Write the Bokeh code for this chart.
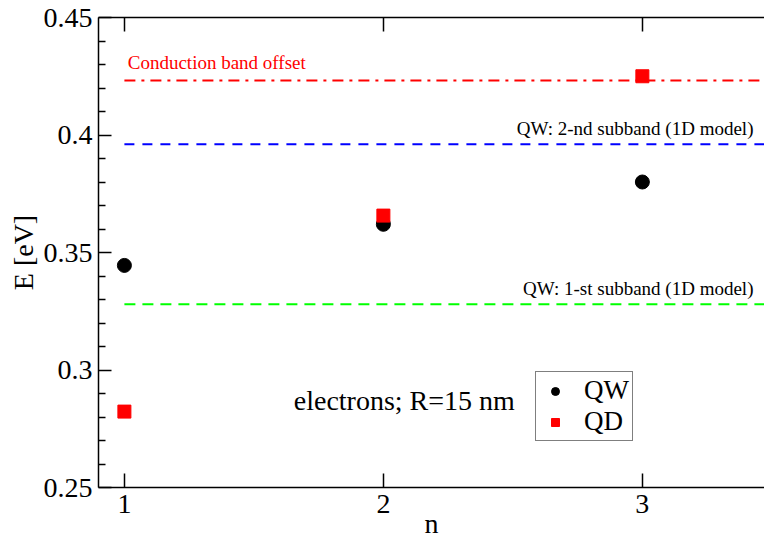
from bokeh.plotting import figure
from bokeh.models import (Range1d, LinearAxis, FixedTicker, CustomJSTickFormatter,
                          Label, Legend, LegendItem)
from bokeh.embed import file_html
from bokeh.resources import INLINE

# ---- data ----
n_states = [1, 2, 3]
qw_energy = [0.3445, 0.362, 0.380]     # QW (black circles)
qd_energy = [0.2823, 0.3657, 0.425]    # QD (red squares)

cb_offset = 0.4232      # conduction band offset
qw_sub2 = 0.3961        # QW 2-nd subband (1D model)
qw_sub1 = 0.3280        # QW 1-st subband (1D model)
line_x = [1.0, 3.5]

x_ticks = [1, 2, 3]
y_ticks = [0.25, 0.30, 0.35, 0.40, 0.45]
y_minor = [0.26, 0.27, 0.28, 0.29, 0.31, 0.32, 0.33, 0.34, 0.36, 0.37, 0.38,
           0.39, 0.41, 0.42, 0.43, 0.44]

FONT = "'Liberation Serif', 'Times New Roman', serif"

p = figure(width=764, height=541, x_range=Range1d(0.9, 3.4716), y_range=Range1d(0.25, 0.45),
           output_backend="svg", toolbar_location=None,
           x_axis_location=None, y_axis_location=None,
           min_border_left=98, min_border_right=0, min_border_top=17, min_border_bottom=52)
p.outline_line_color = None
p.xgrid.visible = False
p.ygrid.visible = False
p.background_fill_color = "white"
p.border_fill_color = "white"


def style_axis(ax):
    ax.axis_line_color = "black"
    ax.axis_line_width = 1.5
    ax.major_tick_line_color = "black"
    ax.major_tick_line_width = 1.5
    ax.minor_tick_line_color = "black"
    ax.minor_tick_line_width = 1.5
    ax.major_tick_out = 0
    ax.minor_tick_out = 0
    ax.major_label_text_font = FONT
    ax.major_label_text_color = "black"
    ax.axis_label_text_font = FONT
    ax.axis_label_text_font_style = "normal"
    ax.axis_label_text_color = "black"


ya = LinearAxis(ticker=FixedTicker(ticks=y_ticks, minor_ticks=y_minor),
                formatter=CustomJSTickFormatter(code="return String(+tick.toFixed(2));"),
                axis_label="E [eV]")
style_axis(ya)
ya.major_tick_in = 13
ya.minor_tick_in = 7
ya.major_label_text_font_size = "28px"
ya.axis_label_text_font_size = "28px"
ya.major_label_standoff = 6
ya.axis_label_standoff = 2
p.add_layout(ya, "left")

xa = LinearAxis(ticker=FixedTicker(ticks=x_ticks, minor_ticks=[]), axis_label="n")
style_axis(xa)
xa.major_tick_in = 14
xa.minor_tick_in = 0
xa.major_label_text_font_size = "28px"
xa.axis_label_text_font_size = "28px"
xa.major_label_standoff = 7
xa.axis_label_standoff = -8
p.add_layout(xa, "below")

ta = LinearAxis(ticker=FixedTicker(ticks=x_ticks, minor_ticks=[]),
                formatter=CustomJSTickFormatter(code="return '';"))
style_axis(ta)
ta.major_tick_in = 14
ta.minor_tick_in = 0
ta.major_label_standoff = 0
p.add_layout(ta, "above")

# horizontal reference levels
p.line(line_x, [cb_offset, cb_offset], line_color="red", line_width=2, line_dash="11 6 3 6")
p.line(line_x, [qw_sub2, qw_sub2], line_color="blue", line_width=2, line_dash="10 8")
p.line(line_x, [qw_sub1, qw_sub1], line_color="#00ff00", line_width=2, line_dash="11 7")

r_qw = p.scatter(n_states, qw_energy, marker="circle", size=14, color="black")
r_qd = p.scatter(n_states, qd_energy, marker="square", size=13, color="red")

p.add_layout(Label(x=1.013, y=0.4309, text="Conduction band offset", text_font=FONT,
                   text_font_size="19px", text_color="red", text_baseline="alphabetic"))
p.add_layout(Label(x=3.429, y=0.4029, text="QW: 2-nd subband (1D model)", text_font=FONT,
                   text_font_size="19px", text_color="black", text_align="right",
                   text_baseline="alphabetic"))
p.add_layout(Label(x=3.429, y=0.3347, text="QW: 1-st subband (1D model)", text_font=FONT,
                   text_font_size="19px", text_color="black", text_align="right",
                   text_baseline="alphabetic"))
p.add_layout(Label(x=1.654, y=0.2869, text="electrons; R=15 nm", text_font=FONT,
                   text_font_size="28px", text_color="black", text_baseline="alphabetic"))

legend = Legend(items=[LegendItem(label="QW", renderers=[r_qw]),
                       LegendItem(label="QD", renderers=[r_qd])],
                location=(437, 46))
legend.label_text_font = FONT
legend.label_text_font_size = "27px"
legend.label_text_color = "black"
legend.border_line_color = "black"
legend.border_line_width = 1
legend.background_fill_color = "white"
legend.background_fill_alpha = 1
legend.padding = 3
legend.spacing = -5
legend.glyph_width = 32
legend.glyph_height = 20
legend.label_standoff = 13
legend.margin = 0
p.add_layout(legend)

open("out.html", "w").write(file_html(p, INLINE))
